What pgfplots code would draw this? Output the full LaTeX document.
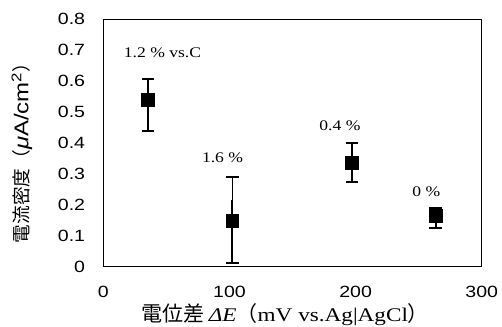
\documentclass[border=0pt]{standalone}
\usepackage{pgfplots}
\pgfplotsset{compat=1.18}
\usepackage{fontspec}
\setmainfont{Liberation Serif}[FakeStretch=1.2]
\setsansfont{Liberation Sans}[FakeStretch=1.2]
\newfontfamily\cjk{Noto Sans CJK JP}
\begin{document}
\begin{tikzpicture}
\begin{axis}[
  scale only axis,
  width=283.8pt, height=185.55pt,
  xmin=0, xmax=300, ymin=0, ymax=0.8,
  xtick={0,100,200,300},
  ytick={0,0.1,0.2,0.3,0.4,0.5,0.6,0.7,0.8},
  major tick length=0pt,
  axis line style={line width=0.8pt},
  /pgf/number format/assume math mode=true,
  tick label style={font=\sffamily\fontsize{12.2}{14}\selectfont},
  yticklabel style={/pgf/number format/fixed, /pgf/number format/precision=1, anchor=east, inner sep=0pt, xshift=-13.5pt},
  xticklabel style={anchor=base, inner sep=0pt, yshift=-23.5pt},
  clip=false,
]
% thick error bars (both directions)
\addplot[draw=none, mark=none, forget plot,
  error bars/.cd, y dir=both, y explicit,
  error bar style={line width=1.5pt, black},
  error mark options={rotate=90, line width=1.5pt, mark size=4.6pt, black}]
  coordinates {
  (35.4,0.539) += (0,0.068) -= (0,0.100)
  (196.9,0.335) += (0,0.066) -= (0,0.061)
  (263.4,0.165) += (0,0.025) -= (0,0.041)
  };
% point 2: thick lower
\addplot[draw=none, mark=none, forget plot,
  error bars/.cd, y dir=minus, y explicit,
  error bar style={line width=1.5pt, black},
  error mark options={rotate=90, line width=1.5pt, mark size=4.6pt, black}]
  coordinates { (102.4,0.148) -= (0,0.137) };
% point 2: thin upper
\addplot[draw=none, mark=none, forget plot,
  error bars/.cd, y dir=plus, y explicit,
  error bar style={line width=0.75pt, black},
  error mark options={rotate=90, line width=1.5pt, mark size=4.6pt, black}]
  coordinates { (102.4,0.148) += (0,0.143) };
% point 2: thick part of upper bar
\addplot[draw=none, mark=none, forget plot,
  error bars/.cd, y dir=plus, y explicit,
  error bar style={line width=1.5pt, black},
  error mark options={rotate=90, line width=0pt, mark size=0pt}]
  coordinates { (102.4,0.148) += (0,0.068) };
% markers
\addplot[only marks, mark=square*, mark size=4.7pt, black]
  coordinates { (35.4,0.539) (102.4,0.148) (196.9,0.335) (263.4,0.165) };
\node[font=\rmfamily\fontsize{11}{13}\selectfont, inner sep=0pt] at (axis cs:46.9,0.692) {1.2 \% vs.C};
\node[font=\rmfamily\fontsize{11}{13}\selectfont, inner sep=0pt] at (axis cs:94.5,0.351) {1.6 \%};
\node[font=\rmfamily\fontsize{11}{13}\selectfont, inner sep=0pt] at (axis cs:187.6,0.455) {0.4 \%};
\node[font=\rmfamily\fontsize{11}{13}\selectfont, inner sep=0pt] at (axis cs:256,0.243) {0 \%};
\end{axis}
\node[rotate=90, anchor=center, inner sep=0pt] at (-61pt,88.6pt)
  {{\cjk\fontsize{14}{16}\selectfont 電流密度（}{\sffamily\fontsize{15}{17}\selectfont\itshape μ\upshape A/cm\textsuperscript{2}}{\cjk\fontsize{14}{16}\selectfont ）}};
\node[anchor=base, inner sep=0pt] at (136.3pt,-41.25pt)
  {{\cjk\fontsize{15.75}{18}\selectfont 電位差 }{\rmfamily\fontsize{14.5}{17}\selectfont\textit{ΔE}}{\cjk\fontsize{15.75}{18}\selectfont （}{\rmfamily\fontsize{14.5}{17}\selectfont mV vs.Ag|AgCl}{\cjk\fontsize{15.75}{18}\selectfont ）}};
\pgfresetboundingbox
\useasboundingbox (-77.5pt,-45.35pt) rectangle (299pt,199.9pt);
\end{tikzpicture}
\end{document}
